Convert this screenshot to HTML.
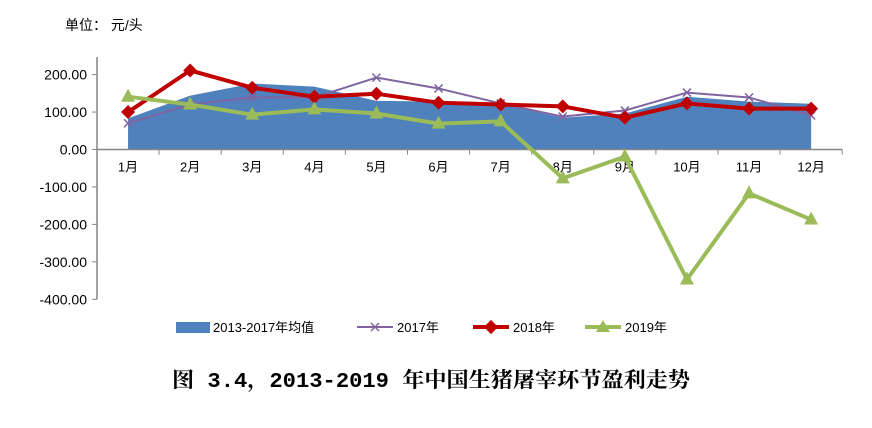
<!DOCTYPE html>
<html><head><meta charset="utf-8"><style>
body{margin:0;background:#fff;width:872px;height:423px;overflow:hidden;font-family:"Liberation Sans","Noto Sans CJK SC",sans-serif}
</style></head><body>
<svg width="872" height="423" xmlns="http://www.w3.org/2000/svg">
<text x="65" y="30" font-size="14" font-family="Liberation Sans, Noto Sans CJK SC, sans-serif">单位：  元/头</text>
<g id="plot"></g>
<g font-size="13" font-family="Liberation Sans, Noto Sans CJK SC, sans-serif">
<rect x="176" y="322" width="34" height="11" fill="#4f81bd"/>
<text x="213" y="332">2013-2017年均值</text>
<line x1="357" y1="327" x2="393" y2="327" stroke="#8064a2" stroke-width="2"/>
<path d="M371,323L379,331M371,331L379,323" stroke="#8064a2" stroke-width="1.5"/>
<text x="397" y="332">2017年</text>
<line x1="473" y1="327" x2="509" y2="327" stroke="#c00000" stroke-width="4"/>
<rect x="486" y="322" width="10" height="10" fill="#c00000" transform="rotate(45 491 327)"/>
<text x="513" y="332">2018年</text>
<line x1="585" y1="327" x2="621" y2="327" stroke="#9bbb59" stroke-width="4"/>
<polygon points="603,320 610,332 596,332" fill="#9bbb59"/>
<text x="625" y="332">2019年</text>
</g>
<text x="172" y="387" font-size="21" font-weight="bold" textLength="518" lengthAdjust="spacingAndGlyphs" font-family="Liberation Mono, Noto Serif CJK SC, serif">图 3.4，2013-2019 年中国生猪屠宰环节盈利走势</text>
</svg>
<script>
const categories=["1月","2月","3月","4月","5月","6月","7月","8月","9月","10月","11月","12月"];
const avgValues=[83,144,176,168,130,128,122,85,96,141,128,122];
const s2017=[70,120,139,139,192,163,123,88,104,152,139,91];
const s2018=[100,211,165,141,149,125,120,115,85,123,109,109];
const s2019=[141,120,93,107,96,69,75,-77,-19,-347,-117,-187];
const yTicks=[200,100,0,-100,-200,-300,-400];
const NS="http://www.w3.org/2000/svg";
const g=document.getElementById('plot');
const x0=97,band=62.1;
function X(i){return x0+band*(i+0.5);}
function Y(v){return 149.5-v*0.3745;}
function el(t,a){const e=document.createElementNS(NS,t);for(const k in a)e.setAttribute(k,a[k]);g.appendChild(e);return e;}
let d="M"+X(0)+","+Y(0);
avgValues.forEach((v,i)=>d+=" L"+X(i)+","+Y(v));
d+=" L"+X(11)+","+Y(0)+" Z";
const area=el('path',{d:d,fill:'#4f81bd'});


const ya=el('line',{x1:x0,y1:57,x2:x0,y2:Y(-400),stroke:'#868686','stroke-width':1.5});


yTicks.forEach(v=>{
 el('line',{x1:x0-5,y1:Y(v),x2:x0,y2:Y(v),stroke:'#868686'});
 const t=el('text',{x:x0-10,y:Y(v)+5,'text-anchor':'end','font-size':14});
 t.textContent=v.toFixed(2);
 
 
});
const xa=el('line',{x1:x0,y1:Y(0),x2:x0+band*12,y2:Y(0),stroke:'#868686','stroke-width':1.5});


categories.forEach((c,i)=>{
 el('line',{x1:x0+band*(i+1),y1:Y(0),x2:x0+band*(i+1),y2:Y(0)+5,stroke:'#868686'});
 const t=el('text',{x:X(i),y:Y(0)+22,'text-anchor':'middle','font-size':13});
 t.textContent=c;
 
 
});
function line(vals,color,w,name){
 const p=el('polyline',{points:vals.map((v,i)=>X(i)+","+Y(v)).join(" "),fill:'none',stroke:color,'stroke-width':w,'stroke-linejoin':'round'});
 
 
}
line(s2017,'#8064a2',2,'line-2017');
s2017.forEach((v,i)=>{const x=X(i),y=Y(v);el('path',{d:`M${x-4},${y-4}L${x+4},${y+4}M${x-4},${y+4}L${x+4},${y-4}`,stroke:'#8064a2','stroke-width':1.5});});
line(s2018,'#c00000',4,'line-2018');
s2018.forEach((v,i)=>{const x=X(i),y=Y(v);el('polygon',{points:`${x},${y-7} ${x+7},${y} ${x},${y+7} ${x-7},${y}`,fill:'#c00000'});});
line(s2019,'#9bbb59',4,'line-2019');
s2019.forEach((v,i)=>{const x=X(i),y=Y(v);el('polygon',{points:`${x},${y-8} ${x+7},${y+5} ${x-7},${y+5}`,fill:'#9bbb59'});});
</script>
</body></html>
